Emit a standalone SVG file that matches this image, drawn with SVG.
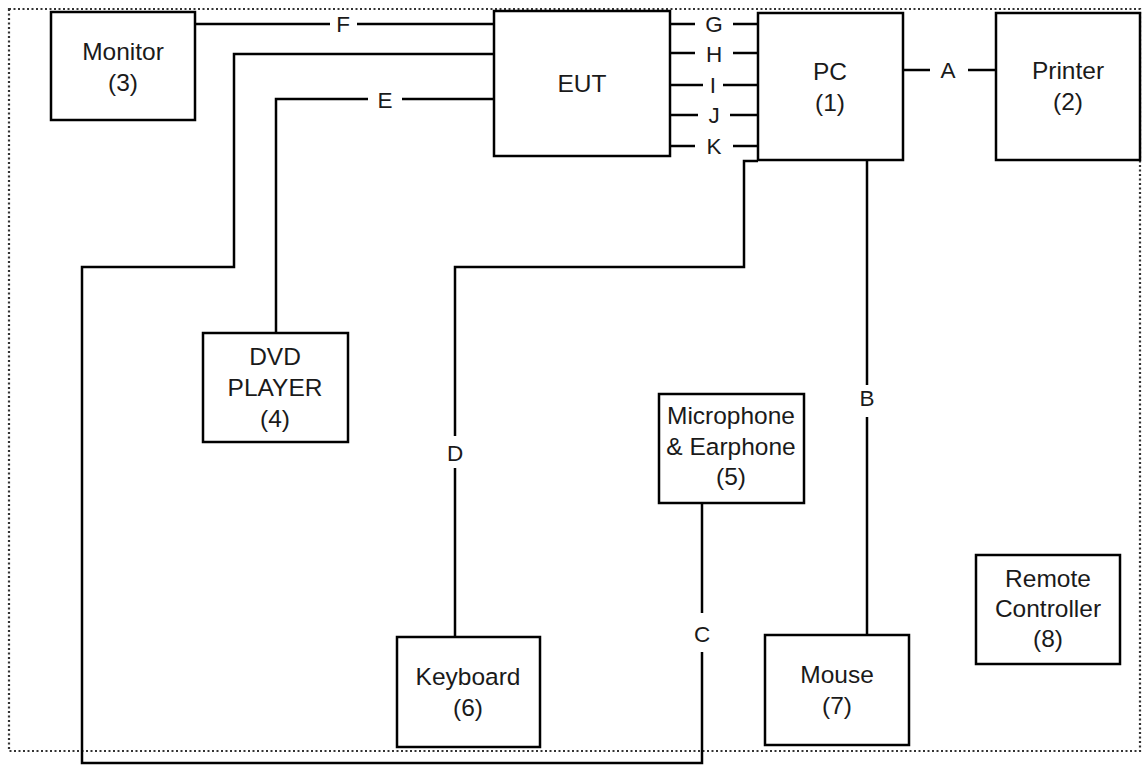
<svg xmlns="http://www.w3.org/2000/svg" width="1142" height="765" viewBox="0 0 1142 765">
<style>
.box{fill:#fff;stroke:#000;stroke-width:2.5}
.t{font-family:"Liberation Sans",Arial,sans-serif;font-size:24.5px;fill:#1a1a1a;text-anchor:middle}
.l{font-family:"Liberation Sans",Arial,sans-serif;font-size:22.5px;fill:#1a1a1a;text-anchor:middle}
.c{fill:none;stroke:#000;stroke-width:2.5}
</style>
<rect x="0" y="0" width="1142" height="765" fill="#fff"/>
<rect x="9" y="9" width="1131" height="742" fill="none" stroke="#333" stroke-width="2.2" stroke-dasharray="2,2.5"/>
<g id="connectors">
<path class="c" d="M195,24 H330 M357,24 H494"/>
<path class="c" d="M494,54 H234 V267 H82 V763 H702 V652 M702,613 V503"/>
<path class="c" d="M494,99 H402 M368,99 H276 V333"/>
<path class="c" d="M670,24 H695 M733,24 H758"/>
<path class="c" d="M670,53 H695 M733,53 H758"/>
<path class="c" d="M670,85 H703 M723,85 H758"/>
<path class="c" d="M670,115 H698 M730,115 H758"/>
<path class="c" d="M670,146 H695 M733,146 H758"/>
<path class="c" d="M903,70 H930 M968,70 H996"/>
<path class="c" d="M867,160 V385 M867,417 V635"/>
<path class="c" d="M758,161 H744 V267 H455 V436 M455,468 V637"/>
<text class="l" x="343" y="32">F</text>
<text class="l" x="385" y="108">E</text>
<text class="l" x="714" y="32">G</text>
<text class="l" x="714" y="62">H</text>
<text class="l" x="713" y="93">I</text>
<text class="l" x="714" y="123">J</text>
<text class="l" x="714" y="154">K</text>
<text class="l" x="948" y="78">A</text>
<text class="l" x="867" y="406">B</text>
<text class="l" x="702" y="642">C</text>
<text class="l" x="455" y="461">D</text>
</g>
<g id="monitor"><rect class="box" x="51" y="12" width="144" height="108"/><text class="t" x="123" y="60">Monitor</text><text class="t" x="123" y="91">(3)</text></g>
<g id="eut"><rect class="box" x="494" y="11" width="176" height="145"/><text class="t" x="582" y="92">EUT</text></g>
<g id="pc"><rect class="box" x="758" y="13" width="145" height="147"/><text class="t" x="830" y="80">PC</text><text class="t" x="830" y="111">(1)</text></g>
<g id="printer"><rect class="box" x="996" y="13" width="144" height="147"/><text class="t" x="1068" y="79">Printer</text><text class="t" x="1068" y="110">(2)</text></g>
<g id="dvd"><rect class="box" x="203" y="333" width="145" height="109"/><text class="t" x="275" y="365">DVD</text><text class="t" x="275" y="396">PLAYER</text><text class="t" x="275" y="427">(4)</text></g>
<g id="mic"><rect class="box" x="659" y="394" width="145" height="109"/><text class="t" x="731" y="424">Microphone</text><text class="t" x="731" y="455">&amp; Earphone</text><text class="t" x="731" y="485">(5)</text></g>
<g id="remote"><rect class="box" x="976" y="555" width="144" height="109"/><text class="t" x="1048" y="587">Remote</text><text class="t" x="1048" y="617">Controller</text><text class="t" x="1048" y="647">(8)</text></g>
<g id="keyboard"><rect class="box" x="397" y="637" width="143" height="110"/><text class="t" x="468" y="685">Keyboard</text><text class="t" x="468" y="716">(6)</text></g>
<g id="mouse"><rect class="box" x="765" y="635" width="144" height="110"/><text class="t" x="837" y="683">Mouse</text><text class="t" x="837" y="714">(7)</text></g>
</svg>
